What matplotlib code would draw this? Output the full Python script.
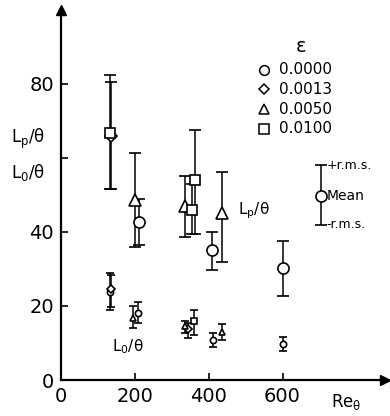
import matplotlib
matplotlib.use("Agg")
import matplotlib.pyplot as plt

# L_p/theta (large symbols): Re, mean, +rms top, -rms bottom
lp_circ_re = [211, 408, 600]
lp_circ_mean = [42.7, 35.0, 30.2]
lp_circ_top = [49.0, 40.0, 37.6]
lp_circ_bot = [36.5, 29.7, 22.6]

lp_diam_re = [137]
lp_diam_mean = [66.0]
lp_diam_top = [80.5]
lp_diam_bot = [51.5]

lp_tri_re = [200, 335, 435]
lp_tri_mean = [48.5, 47.1, 45.0]
lp_tri_top = [61.2, 55.0, 56.3]
lp_tri_bot = [35.9, 38.6, 32.0]

lp_sq_re = [132, 354, 362]
lp_sq_mean = [66.7, 46.0, 54.0]
lp_sq_top = [82.5, 53.0, 67.5]
lp_sq_bot = [51.7, 39.5, 39.5]

# L_0/theta (small symbols)
l0_circ_re = [132, 209, 411, 600]
l0_circ_mean = [23.7, 18.2, 10.9, 9.7]
l0_circ_top = [28.8, 21.2, 12.8, 11.6]
l0_circ_bot = [19.0, 15.5, 8.8, 7.9]

l0_diam_re = [137, 345]
l0_diam_mean = [24.5, 13.8]
l0_diam_top = [28.3, 15.5]
l0_diam_bot = [19.8, 11.4]

l0_tri_re = [196, 335, 435]
l0_tri_mean = [16.8, 14.5, 12.9]
l0_tri_top = [19.9, 16.0, 15.0]
l0_tri_bot = [14.0, 12.8, 10.9]

l0_sq_re = [360]
l0_sq_mean = [15.9]
l0_sq_top = [19.0]
l0_sq_bot = [12.2]

eps_labels = ["0.0000", "0.0013", "0.0050", "0.0100"]
eps_markers = ["o", "D", "^", "s"]

fig = plt.figure(figsize=(3.9, 4.16), dpi=100)
ax = fig.add_axes([0.156, 0.0865, 0.83, 0.89])


def errpts(ax, x, m, top, bot, marker, ms, cap):
    lo = [a - b for a, b in zip(m, bot)]
    hi = [b - a for a, b in zip(m, top)]
    ms_use = ms * 0.8 if marker == "D" else ms
    ax.errorbar(x, m, yerr=[lo, hi], fmt=marker, ms=ms_use, mfc="white",
                mec="black", mew=1.2, ecolor="black", elinewidth=1.1,
                capsize=cap, capthick=1.1, zorder=3)


errpts(ax, lp_circ_re, lp_circ_mean, lp_circ_top, lp_circ_bot, "o", 8, 4)
errpts(ax, lp_diam_re, lp_diam_mean, lp_diam_top, lp_diam_bot, "D", 8, 4)
errpts(ax, lp_tri_re, lp_tri_mean, lp_tri_top, lp_tri_bot, "^", 8, 4)
errpts(ax, lp_sq_re, lp_sq_mean, lp_sq_top, lp_sq_bot, "s", 7.5, 4)

errpts(ax, l0_circ_re, l0_circ_mean, l0_circ_top, l0_circ_bot, "o", 4.5, 3)
errpts(ax, l0_diam_re, l0_diam_mean, l0_diam_top, l0_diam_bot, "D", 4.5, 3)
errpts(ax, l0_tri_re, l0_tri_mean, l0_tri_top, l0_tri_bot, "^", 4.5, 3)
errpts(ax, l0_sq_re, l0_sq_mean, l0_sq_top, l0_sq_bot, "s", 4.2, 3)

ax.set_xlim(0, 876)
ax.set_ylim(0, 100)
for s in ["top", "right"]:
    ax.spines[s].set_visible(False)
for s in ["left", "bottom"]:
    ax.spines[s].set_linewidth(1.6)
# arrow heads
ax.plot(1, 0, ">k", ms=7, transform=ax.transAxes, clip_on=False)
ax.plot(0, 1, "^k", ms=7, transform=ax.transAxes, clip_on=False)

ax.set_xticks([0, 200, 400, 600])
ax.set_xticklabels(["0", "200", "400", "600"])
ax.set_yticks([0, 20, 40, 60, 80])
ax.set_yticklabels(["0", "20", "40", "", "80"])
ax.tick_params(direction="in", length=5, width=1.2, labelsize=14, pad=5)

# y label
ax.text(-0.05, 65, "L$_\\mathrm{p}$/θ", fontsize=12, ha="right", va="center",
        transform=ax.get_yaxis_transform())
ax.text(-0.05, 56, "L$_\\mathrm{0}$/θ", fontsize=12, ha="right", va="center",
        transform=ax.get_yaxis_transform())
ax.text(730, -6, "Re$_\\mathrm{θ}$", fontsize=12, ha="left", va="center",
        clip_on=False)

# curve labels
ax.text(480, 45.7, "L$_\\mathrm{p}$/θ", fontsize=11, ha="left", va="center")
ax.text(138, 9, "L$_\\mathrm{0}$/θ", fontsize=11, ha="left", va="center")

# legend
ax.text(650, 90, "ε", fontsize=14, ha="center", va="center")
leg_y = [83.8, 78.6, 73.2, 67.8]
for yy, mk, lab in zip(leg_y, eps_markers, eps_labels):
    ax.plot([551], [yy], mk, ms=7 if mk != "D" else 5.5, mfc="white", mec="black",
            mew=1.1)
    ax.text(590, yy, lab, fontsize=11, ha="left", va="center")

# mean / rms key
ax.errorbar([703], [49.8], yerr=[[7.8], [8.2]], fmt="o", ms=8, mfc="white",
            mec="black", mew=1.2, ecolor="black", elinewidth=1.1, capsize=4,
            capthick=1.1)
ax.text(718, 58, "+r.m.s.", fontsize=9, ha="left", va="center")
ax.text(718, 49.8, "Mean", fontsize=10, ha="left", va="center")
ax.text(718, 42, "-r.m.s.", fontsize=9, ha="left", va="center")

fig.savefig("out.png", dpi=100)
